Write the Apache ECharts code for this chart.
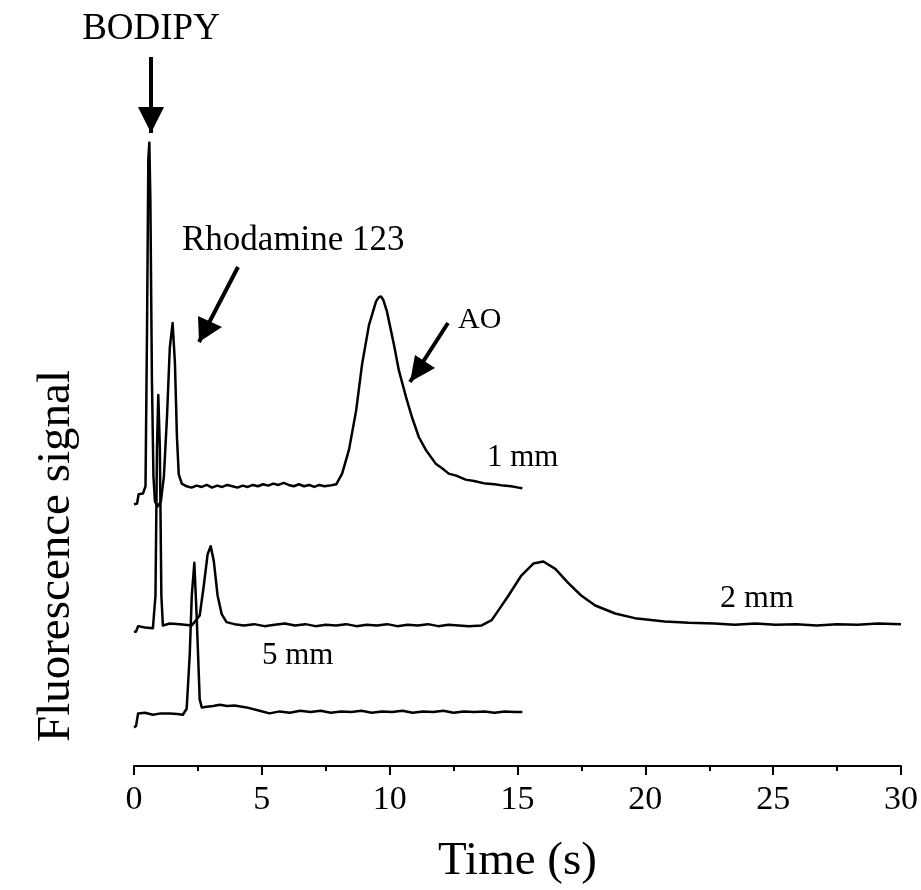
<!DOCTYPE html>
<html>
<head>
<meta charset="utf-8">
<script src="https://cdn.jsdelivr.net/npm/echarts@6/dist/echarts.min.js"></script>
<style>
html,body{margin:0;padding:0;background:#fff;}
#chart{width:921px;height:890px;}
</style>
</head>
<body>
<div id="chart"></div>
<script>
// Time axis ticks (s)
var xTicks = [0, 5, 10, 15, 20, 25, 30];

// 1 mm trace: [time (s), signal (a.u.)]
var trace1mm = [
  [0.00,39.3],[0.12,39.4],[0.18,40.8],[0.35,40.9],[0.45,42.0],[0.51,65.8],[0.56,91.1],[0.60,93.6],
  [0.64,85.1],[0.70,58.3],[0.76,43.5],[0.82,39.7],[0.93,39.0],[1.05,39.7],[1.17,43.5],[1.29,52.4],
  [1.40,62.8],[1.51,66.5],[1.60,60.6],[1.68,49.4],[1.75,43.8],[1.87,42.4],[2.06,42.0],[2.25,41.8],
  [2.45,42.1],[2.65,41.9],[2.85,42.2],[3.05,41.8],[3.25,42.1],[3.45,41.9],[3.65,42.2],[3.85,42.0],
  [4.05,41.8],[4.25,42.1],[4.45,41.9],[4.65,42.2],[4.85,42.0],[5.05,42.3],[5.25,42.1],[5.45,42.4],
  [5.65,42.2],[5.85,42.5],[6.05,42.2],[6.25,42.0],[6.45,42.3],[6.65,42.0],[6.85,42.2],[7.05,41.9],
  [7.25,42.2],[7.45,42.0],[7.65,42.1],[7.91,42.3],[8.14,43.9],[8.41,47.5],[8.69,53.4],[8.92,60.3],
  [9.19,66.2],[9.47,69.8],[9.58,70.4],[9.66,70.5],[9.75,70.0],[9.89,68.3],[10.17,63.2],[10.36,59.4],
  [10.64,55.4],[10.87,52.4],[11.14,49.4],[11.41,47.5],[11.80,45.4],[12.05,44.7],[12.31,43.9],[12.60,43.6],
  [12.97,43.0],[13.30,42.8],[13.75,42.4],[14.10,42.3],[14.45,42.1],[14.75,42.0],[15.04,41.8],[15.19,41.7]
];

// 2 mm trace
var trace2mm = [
  [0.00,20.1],[0.08,20.2],[0.16,21.0],[0.43,20.8],[0.74,20.7],[0.84,25.6],[0.90,47.9],[0.95,55.7],
  [1.01,47.9],[1.07,25.6],[1.13,21.1],[1.40,21.4],[1.79,21.3],[2.26,21.1],[2.57,22.6],[2.73,27.1],
  [2.88,31.8],[3.00,33.0],[3.12,30.8],[3.27,25.6],[3.43,22.8],[3.62,21.6],[3.93,21.3],[4.3,21.1],
  [4.7,21.3],[5.1,21.0],[5.5,21.2],[5.9,21.4],[6.3,21.1],[6.7,21.3],[7.1,21.0],[7.5,21.2],
  [7.9,21.1],[8.3,21.3],[8.7,21.0],[9.1,21.2],[9.5,21.1],[9.9,21.3],[10.3,21.0],[10.7,21.2],
  [11.1,21.1],[11.5,21.3],[11.9,21.0],[12.3,21.2],[12.7,21.1],[13.1,21.0],[13.60,21.1],[13.99,21.9],
  [14.26,23.4],[14.65,25.6],[15.15,28.6],[15.62,30.4],[16.01,30.7],[16.48,29.6],[16.98,27.5],[17.49,25.6],
  [18.04,24.1],[18.82,22.9],[19.59,22.2],[20.76,21.7],[21.7,21.5],[22.71,21.4],[23.5,21.2],[24.3,21.4],
  [25.1,21.2],[25.9,21.3],[26.7,21.1],[27.5,21.3],[28.3,21.2],[29.1,21.4],[30.0,21.3]
];

// 5 mm trace
var trace5mm = [
  [0.00,5.8],[0.08,6.0],[0.16,7.9],[0.43,8.0],[0.74,7.7],[1.05,7.9],[1.40,7.9],[1.70,7.8],
  [1.91,7.7],[2.06,8.6],[2.18,16.7],[2.26,25.6],[2.36,30.5],[2.45,22.6],[2.57,10.0],[2.65,8.8],
  [2.84,8.9],[3.10,9.0],[3.35,9.2],[3.65,9.0],[3.93,9.1],[4.40,8.8],[4.91,8.3],[5.30,7.9],
  [5.7,8.2],[6.1,8.0],[6.5,8.3],[6.9,8.1],[7.3,8.3],[7.7,8.0],[8.1,8.2],[8.5,8.1],
  [8.9,8.3],[9.3,8.0],[9.7,8.2],[10.1,8.1],[10.5,8.3],[10.9,8.0],[11.3,8.2],[11.7,8.1],
  [12.1,8.3],[12.5,8.0],[12.9,8.2],[13.3,8.1],[13.7,8.2],[14.1,8.0],[14.5,8.2],[14.9,8.1],[15.19,8.1]
];

var seriesNames = ['1 mm', '2 mm', '5 mm'];
var FONT = '"Liberation Serif", "Times New Roman", serif';

var chart = echarts.init(document.getElementById('chart'), null, {renderer: 'canvas'});

function txt(text, x, y, size, align, rot) {
  return {type: 'text', x: x, y: y, rotation: rot || 0, silent: true,
    style: {text: text, fontFamily: FONT, fontSize: size, fill: '#000', align: align || 'left', verticalAlign: 'middle'}};
}
function arrow(x1, y1, x2, y2, p1, p2) {
  return [
    {type: 'line', silent: true, shape: {x1: x1, y1: y1, x2: x2, y2: y2}, style: {stroke: '#000', lineWidth: 4}},
    {type: 'polygon', silent: true, shape: {points: [p1, p2, [x2, y2]]}, style: {fill: '#000'}}
  ];
}

var option = {
  animation: false,
  backgroundColor: '#fff',
  grid: {left: 134, right: 17, top: 100, bottom: 117},
  xAxis: {
    type: 'value', min: 0, max: 30, interval: 5,
    name: 'Time (s)', nameLocation: 'middle', nameGap: 72,
    nameTextStyle: {fontFamily: FONT, fontSize: 47, color: '#000'},
    axisLine: {show: true, lineStyle: {color: '#000', width: 2}},
    axisTick: {show: true, length: 9, lineStyle: {color: '#000', width: 2}},
    minorTick: {show: true, splitNumber: 2, length: 5, lineStyle: {color: '#000', width: 2}},
    axisLabel: {fontFamily: FONT, fontSize: 34, color: '#000', margin: 17,
      formatter: function (v) { return xTicks.indexOf(v) >= 0 ? String(v) : ''; }},
    splitLine: {show: false}
  },
  yAxis: {
    type: 'value', min: 0, max: 100,
    axisLine: {show: false}, axisTick: {show: false}, axisLabel: {show: false}, splitLine: {show: false}
  },
  series: [trace1mm, trace2mm, trace5mm].map(function (d, i) {
    return {name: seriesNames[i], type: 'line', data: d, showSymbol: false, symbol: 'none',
      lineStyle: {color: '#000', width: 2.5, join: 'round'}, clip: false};
  })
};
chart.setOption(option);

var g = [];
g.push(txt('Fluorescence signal', 57, 556, 47, 'center', Math.PI / 2));
g.push(txt('BODIPY', 151, 29.5, 37, 'center'));
g.push(txt('Rhodamine 123', 182, 241, 35));
g.push(txt('AO', 458, 320, 30));
g.push(txt('1 mm', 487, 457.5, 31));
g.push(txt('2 mm', 720, 599, 32));
g.push(txt('5 mm', 262, 656, 31));
g = g.concat(arrow(151, 57, 151, 133, [138, 107], [164, 107]));
g = g.concat(arrow(238, 267, 199, 342, [198, 316], [222, 327]));
g = g.concat(arrow(448, 323, 410, 382, [415, 355], [435, 368]));
chart.setOption({graphic: g});
</script>
</body>
</html>
